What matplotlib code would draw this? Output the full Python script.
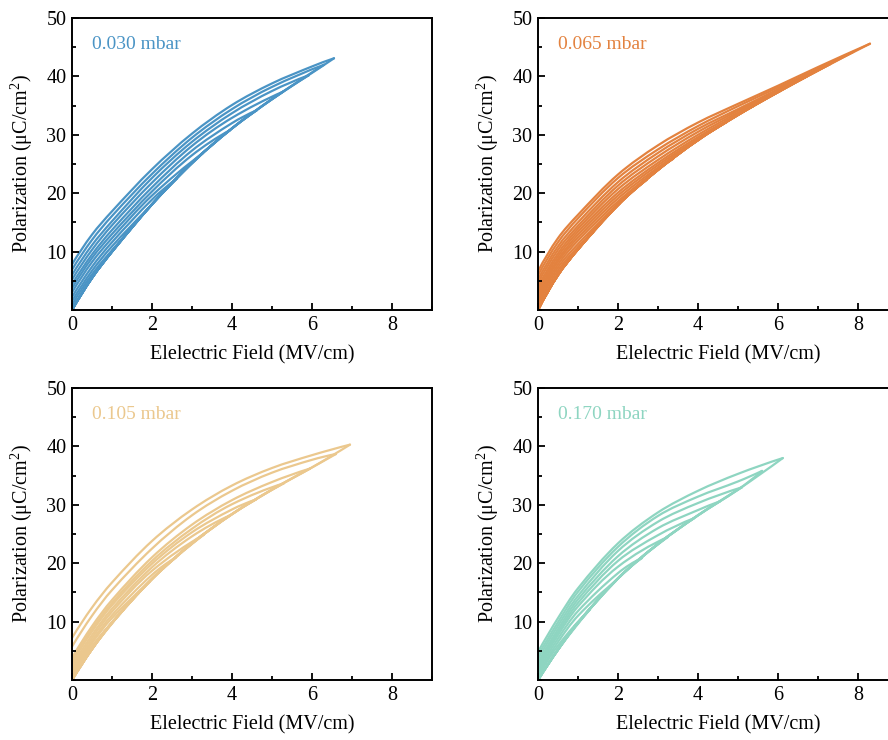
import matplotlib
matplotlib.use("Agg")
import numpy as np
import matplotlib.pyplot as plt
from matplotlib.path import Path
from matplotlib.patches import PathPatch
from matplotlib.ticker import MultipleLocator, FixedLocator

plt.rcParams['font.family'] = ['Liberation Serif', 'DejaVu Serif']
plt.rcParams['mathtext.fontset'] = 'custom'
plt.rcParams['mathtext.rm'] = 'Liberation Serif'
plt.rcParams['mathtext.it'] = 'Liberation Serif:italic'

# Field values (MV/cm) at which the branches are sampled
field_grid = [0, 0.5, 1, 2, 3, 4, 5, 6, 7, 8]

# ---- 0.030 mbar ----
charge_030 = [0, 5.5, 10.0, 18.1, 25.2, 31.1, 36.1, 40.6]
emax_030 = [1.28, 1.95, 2.62, 3.28, 3.95, 4.62, 5.28, 5.92, 6.30, 6.55]
pmax_030 = [12.3, 17.7, 22.5, 26.9, 30.8, 34.2, 37.4, 40.2, 42.0, 43.1]
discharge_030 = [
    [0.8, 6.1],
    [1.5, 6.7, 10.9],
    [2.2, 7.4, 11.6, 18.9],
    [3.0, 8.2, 12.3, 19.6],
    [3.7, 8.9, 13.0, 20.3, 26.5],
    [4.4, 9.5, 13.7, 21.0, 27.3, 32.0],
    [5.2, 10.3, 14.5, 21.8, 28.1, 32.9],
    [6.0, 11.1, 15.2, 22.6, 28.8, 33.7, 37.5],
    [6.9, 12.0, 16.1, 23.3, 29.5, 34.4, 38.2],
    [7.8, 12.9, 16.9, 24.1, 30.2, 35.1, 38.8, 41.7],
]

# ---- 0.065 mbar ----
charge_065 = [0, 6.0, 10.4, 18.0, 24.0, 29.1, 33.4, 37.3, 41.0, 44.6]
emax_065 = [1.38, 2.05, 2.72, 3.38, 4.05, 4.72, 5.38, 6.05, 6.72, 7.30, 7.88, 8.30]
pmax_065 = [13.3, 18.3, 22.3, 25.9, 29.3, 32.2, 34.9, 37.5, 40.0, 42.1, 44.2, 45.6]
discharge_065 = [
    [0.5, 6.3, 10.5],
    [1.0, 6.8, 10.8],
    [1.5, 7.3, 11.3, 18.2],
    [2.0, 7.8, 11.9, 18.6, 24.1],
    [2.5, 8.3, 12.4, 19.1, 24.4],
    [3.0, 8.7, 12.9, 19.6, 24.8, 29.3],
    [3.5, 9.2, 13.4, 20.1, 25.2, 29.6, 33.5],
    [4.0, 9.7, 13.9, 20.7, 25.7, 30.0, 33.8],
    [4.6, 10.3, 14.4, 21.3, 26.3, 30.5, 34.1, 37.5],
    [5.2, 10.9, 15.0, 21.9, 26.9, 31.0, 34.4, 37.8],
    [5.9, 11.6, 15.7, 22.6, 27.5, 31.5, 34.9, 38.1, 41.3],
    [6.6, 12.3, 16.3, 23.2, 28.2, 32.1, 35.3, 38.4, 41.6],
]

# ---- 0.105 mbar ----
charge_105 = [0, 5.3, 9.8, 17.3, 23.4, 28.4, 32.6, 36.4]
emax_105 = [1.3, 1.95, 2.6, 3.3, 3.95, 4.6, 5.3, 5.95, 6.6, 6.95]
pmax_105 = [12.1, 16.9, 21.0, 24.9, 28.2, 30.9, 33.7, 36.2, 38.7, 40.3]
discharge_105 = [
    [0.5, 5.8],
    [1.0, 6.3, 10.6],
    [1.4, 6.7, 11.1, 18.0],
    [1.9, 7.2, 11.7, 18.7],
    [2.4, 7.7, 12.2, 19.3, 24.6],
    [2.9, 8.3, 12.8, 19.9, 25.3, 29.2],
    [3.3, 8.7, 13.2, 20.4, 25.9, 30.1],
    [3.8, 9.2, 13.7, 21.0, 26.6, 30.8, 33.9],
    [5.7, 11.0, 15.4, 22.5, 28.2, 32.4, 35.5, 37.7],
    [7.2, 12.4, 16.7, 23.8, 29.2, 33.3, 36.3, 38.5],
]

# ---- 0.170 mbar ----
charge_170 = [0, 5.2, 9.8, 17.4, 23.3, 28.2, 32.6, 36.8]
emax_170 = [1.3, 1.95, 2.6, 3.25, 3.9, 4.55, 5.1, 5.6, 6.12]
pmax_170 = [12.1, 17.0, 20.9, 24.5, 27.7, 30.6, 33.0, 35.8, 38.0]
discharge_170 = [
    [0.5, 5.9],
    [1.0, 6.5, 11.0],
    [1.5, 7.1, 11.8, 18.3],
    [2.0, 7.7, 12.6, 19.4],
    [2.5, 8.2, 13.2, 20.4, 24.8],
    [3.0, 8.7, 13.8, 21.2, 26.0, 29.1],
    [3.6, 9.3, 14.4, 22.1, 27.1, 30.3],
    [4.2, 9.9, 15.1, 22.8, 28.1, 31.4, 34.0],
    [4.8, 10.6, 15.7, 23.4, 28.7, 32.4, 35.3],
]

pressures = ["0.030 mbar", "0.065 mbar", "0.105 mbar", "0.170 mbar"]
colors = ["#4A94C5", "#E3823F", "#EBC88E", "#8ED5C1"]
x_ticks = [0, 2, 4, 6, 8]
y_ticks = [10, 20, 30, 40, 50]

panels = [
    (charge_030, emax_030, pmax_030, discharge_030),
    (charge_065, emax_065, pmax_065, discharge_065),
    (charge_105, emax_105, pmax_105, discharge_105),
    (charge_170, emax_170, pmax_170, discharge_170),
]


def smooth_branch(xs, ys, sx=40.0, sy=5.84):
    """Cubic Bezier path through the given points (Catmull-Rom tangents,
    natural end conditions so the ends keep the curvature)."""
    p = np.column_stack([np.asarray(xs, float), np.asarray(ys, float)])
    q = p * [sx, sy]
    d = np.hypot(*np.diff(q, axis=0).T)
    d[d == 0] = 1e-6
    t = np.concatenate([[0], np.cumsum(d)])
    n = len(p)
    m = np.zeros_like(p)
    for i in range(1, n - 1):
        m[i] = (p[i + 1] - p[i - 1]) / (t[i + 1] - t[i - 1])
    if n > 2:
        m[0] = 2 * (p[1] - p[0]) / (t[1] - t[0]) - m[1]
        m[-1] = 2 * (p[-1] - p[-2]) / (t[-1] - t[-2]) - m[-2]
    else:
        m[0] = m[-1] = (p[1] - p[0]) / (t[1] - t[0])
    verts = [p[0]]
    codes = [Path.MOVETO]
    for i in range(n - 1):
        h = t[i + 1] - t[i]
        verts += [p[i] + m[i] * h / 3, p[i + 1] - m[i + 1] * h / 3, p[i + 1]]
        codes += [Path.CURVE4] * 3
    return Path(verts, codes)


W, H = 888, 740
fig = plt.figure(figsize=(W / 100, H / 100), dpi=100)
fig.patch.set_facecolor("white")

# frame origin (left, top) of each panel, in pixels
frames = [(72, 18), (538, 18), (72, 388), (538, 388)]
aw, ah = 360, 292

for i, ((charge, emax, pmax, discharge), label, col) in enumerate(
        zip(panels, pressures, colors)):
    left, top = frames[i]
    ax = fig.add_axes([left / W, (H - top - ah) / H, aw / W, ah / H])
    for em, pm, down in zip(emax, pmax, discharge):
        m = len(down)
        grid = field_grid[:m]
        up_path = smooth_branch(grid + [em], charge[:m] + [pm])
        dn_path = smooth_branch([em] + grid[::-1], [pm] + down[::-1])
        for pth in (up_path, dn_path):
            ax.add_patch(PathPatch(pth, fill=False, edgecolor=col, lw=1.6,
                                   capstyle="round", joinstyle="round"))
    ax.set_xlim(0, 9)
    ax.set_ylim(0, 50)
    ax.xaxis.set_major_locator(FixedLocator(x_ticks))
    ax.xaxis.set_minor_locator(MultipleLocator(1))
    ax.yaxis.set_major_locator(FixedLocator(y_ticks))
    ax.yaxis.set_minor_locator(MultipleLocator(5))
    ax.tick_params(which="both", direction="in", top=False, right=False,
                   width=1.3, labelsize=14.5, pad=4)
    ax.tick_params(which="major", length=5)
    ax.tick_params(which="minor", length=3)
    for sp in ax.spines.values():
        sp.set_linewidth(1.4)
    ax.set_xlabel("Elelectric Field (MV/cm)", fontsize=14.5, labelpad=8)
    ax.set_ylabel("Polarization (μC/cm$^2$)", fontsize=14.5, labelpad=8)
    ax.text(0.5, 45.5, label, color=col, fontsize=14, va="center", ha="left")

fig.savefig("out.png", dpi=100, facecolor="white")
